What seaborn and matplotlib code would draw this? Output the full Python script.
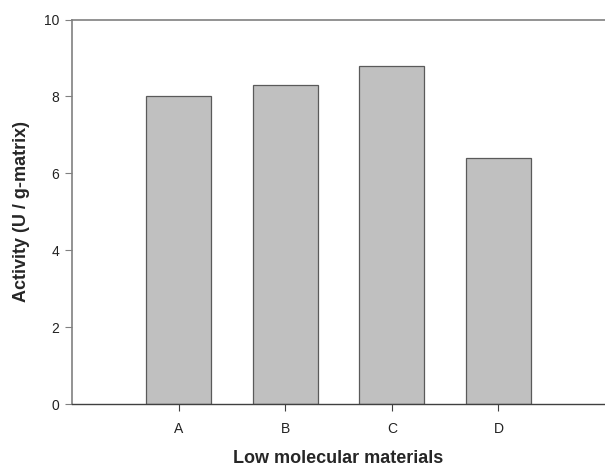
import matplotlib
matplotlib.use("Agg")
import matplotlib.pyplot as plt
import seaborn as sns
import pandas as pd

categories = ["A", "B", "C", "D"]
activity = [8.0, 8.3, 8.8, 6.4]
y_ticks = [0, 2, 4, 6, 8, 10]

sns.set_style("white")
plt.rcParams["font.family"] = ["Liberation Sans", "DejaVu Sans"]

df = pd.DataFrame({"cat": categories, "val": activity})

fig = plt.figure(figsize=(6.05, 4.65), dpi=100)
ax = fig.add_axes([72/605, 1-404/465, 1-72/605, (404-19.5)/465])

sns.barplot(data=df, x="cat", y="val", color="#c0c0c0", saturation=1,
            width=0.61, edgecolor="#5a5a5a", linewidth=0.9, ax=ax)

ax.set_xlim(-1, 4)
ax.set_ylim(0, 10)
ax.set_yticks(y_ticks)
ax.set_yticklabels([str(t) for t in y_ticks])

for s in ["left", "top"]:
    ax.spines[s].set_color("#808080")
    ax.spines[s].set_linewidth(1.2)
ax.spines["bottom"].set_color("#404040")
ax.spines["bottom"].set_linewidth(1.0)
ax.spines["right"].set_visible(False)

ax.tick_params(axis="both", which="major", direction="out", length=5, width=0.8,
               bottom=True, left=True, labelsize=10, labelcolor="#222222")
ax.tick_params(axis="y", color="#808080", pad=4)
ax.tick_params(axis="x", color="#404040", pad=8)

ax.set_xlabel("Low molecular materials", fontsize=13, fontweight="bold", labelpad=10)
ax.set_ylabel("Activity (U / g-matrix)", fontsize=13, fontweight="bold", labelpad=10)

fig.savefig("out.png", dpi=100)
